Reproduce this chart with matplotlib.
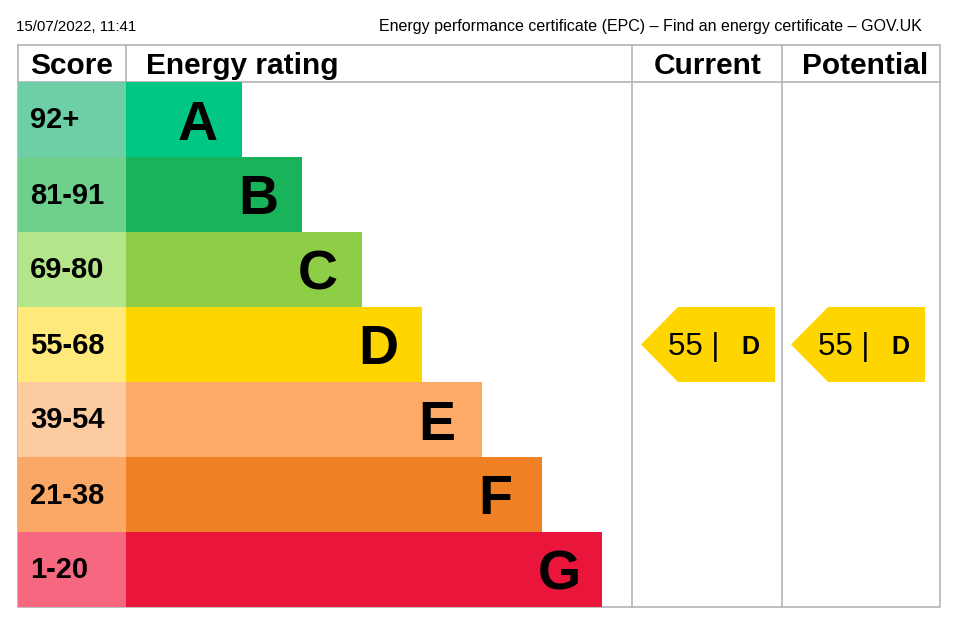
import matplotlib
matplotlib.use("Agg")
import matplotlib.pyplot as plt
from matplotlib.patches import Polygon

plt.rcParams['font.family'] = ['Liberation Sans', 'DejaVu Sans']

# EPC bands
ratings = ['A', 'B', 'C', 'D', 'E', 'F', 'G']
score_labels = ['92+', '81-91', '69-80', '55-68', '39-54', '21-38', '1-20']
score_low = [92, 81, 69, 55, 39, 21, 1]
bar_colors = ['#00c781', '#19b459', '#8dce46', '#ffd500', '#fcaa65', '#ef8023', '#e9153b']
score_colors = ['#6ccfa5', '#6fcf8c', '#b5e58a', '#fee97a', '#fdcba0', '#fba766', '#f56880']

current_score = 55
potential_score = 55

header_date = '15/07/2022, 11:41'
header_title = 'Energy performance certificate (EPC) – Find an energy certificate – GOV.UK'


def band_of(score):
    for i, low in enumerate(score_low):
        if score >= low:
            return i
    return len(score_low) - 1


W, H = 967, 627
fig = plt.figure(figsize=(W / 100, H / 100), dpi=100)
ax = fig.add_axes([0, 0, 1, 1])
ax.set_xlim(0, W)
ax.set_ylim(H, 0)
ax.axis('off')

left, score_right, cur_left, pot_left, right = 18, 126, 632, 782, 940
top, head_bottom, row_h = 45, 82, 75
bottom = head_bottom + row_h * len(ratings)
grid = '#b4b4b4'

fig.text(16 / W, 1 - 27 / H, header_date, fontsize=10.8, va='center', ha='left')
fig.text(922 / W, 1 - 27 / H, header_title, fontsize=11.5, va='center', ha='right')

# bars and score cells
centers = [head_bottom + row_h * i + row_h / 2 for i in range(len(ratings))]
bar_widths = [116 + 60 * i for i in range(len(ratings))]
ax.barh(centers, [score_right - left] * len(ratings), left=left, height=row_h,
        color=score_colors, linewidth=0, zorder=2)
ax.barh(centers, bar_widths, left=score_right, height=row_h,
        color=bar_colors, linewidth=0, zorder=2)

for i, (r, s) in enumerate(zip(ratings, score_labels)):
    ax.text(30, centers[i] + 1, s, fontsize=21, fontweight='bold', va='center', ha='left', zorder=3)
    ax.text(score_right + bar_widths[i] - 64, centers[i] + 6, r, fontsize=40, fontweight='bold',
            va='center', ha='left', zorder=3)

# table lines
lw = 1.2
ax.plot([left, right, right, left, left], [top, top, bottom, bottom, top], color=grid, lw=lw, zorder=1)
ax.plot([left, right], [head_bottom, head_bottom], color=grid, lw=lw, zorder=1)
ax.plot([score_right, score_right], [top, head_bottom], color=grid, lw=lw, zorder=1)
for x in (cur_left, pot_left):
    ax.plot([x, x], [top, bottom], color=grid, lw=lw, zorder=1)

# headers
hy = (top + head_bottom) / 2 + 3
ax.text(30, hy, 'Score', fontsize=21.5, fontweight='bold', va='center', ha='left')
ax.text(146, hy, 'Energy rating', fontsize=21.5, fontweight='bold', va='center', ha='left')
ax.text((cur_left + pot_left) / 2 + 1, hy, 'Current', fontsize=21.5, fontweight='bold', va='center', ha='center')
ax.text((pot_left + right) / 2 + 4, hy, 'Potential', fontsize=21.5, fontweight='bold', va='center', ha='center')


def arrow(x0, score):
    b = band_of(score)
    y0 = head_bottom + row_h * b
    y1 = y0 + row_h
    ym = (y0 + y1) / 2
    pts = [(x0, ym), (x0 + 37, y0), (x0 + 134, y0), (x0 + 134, y1), (x0 + 37, y1)]
    ax.add_patch(Polygon(pts, closed=True, facecolor=bar_colors[b], edgecolor='none', zorder=2))
    ax.text(x0 + 27, ym + 2, f'{score} |', fontsize=22.5, va='center', ha='left', zorder=3)
    ax.text(x0 + 100, ym + 3, ratings[b], fontsize=18, fontweight='bold', va='center', ha='left', zorder=3)


arrow(641, current_score)
arrow(791, potential_score)

fig.savefig('out.png', dpi=100)
